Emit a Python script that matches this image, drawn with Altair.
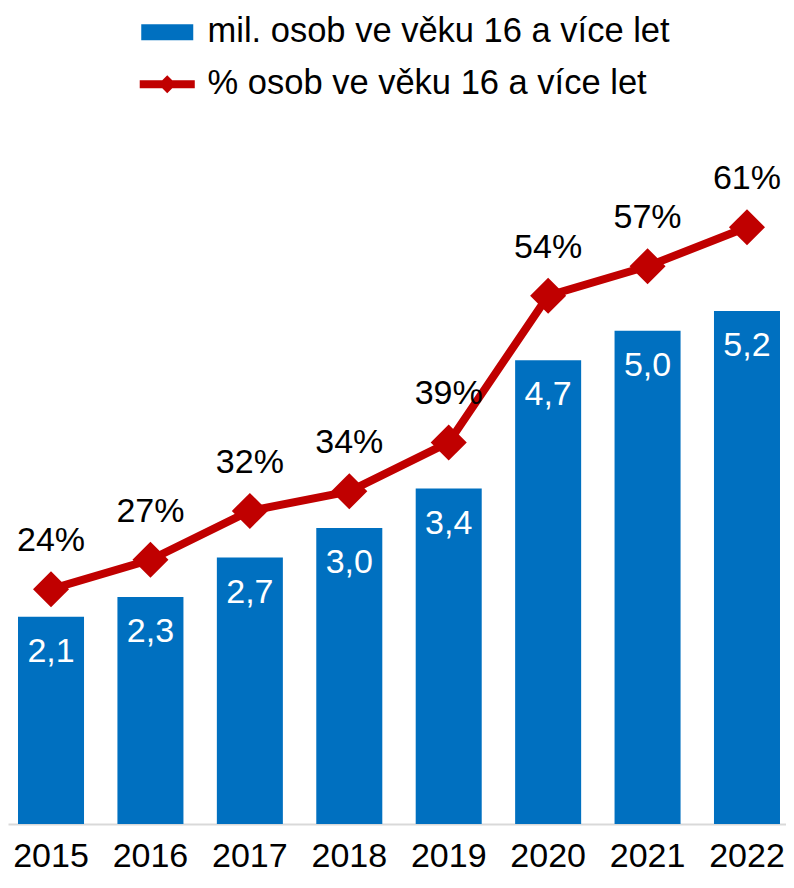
import altair as alt
import pandas as pd

years = ["2015", "2016", "2017", "2018", "2019", "2020", "2021", "2022"]
people_mil = [2.1, 2.3, 2.7, 3.0, 3.4, 4.7, 5.0, 5.2]
people_pct = [24, 27, 32, 34, 39, 54, 57, 61]
bar_series = "mil. osob ve věku 16 a více let"
line_series = "% osob ve věku 16 a více let"

BLUE = "#0070C0"
RED = "#C00000"
FONT = "Liberation Sans"
FS = 34
LEG_FS = 34.5

df = pd.DataFrame({
    "year": years,
    "mil": people_mil,
    "pct": people_pct,
    "mil_label": [f"{v:.1f}".replace(".", ",") for v in people_mil],
    "pct_label": [f"{v}%" for v in people_pct],
    "s_bar": [bar_series] * len(years),
    "s_line": [line_series] * len(years),
})

x = alt.X(
    "year:N",
    scale=alt.Scale(paddingInner=0.336, paddingOuter=0.0805, align=0.625),
    axis=alt.Axis(title=None, labelAngle=0, labelFontSize=FS, labelFont=FONT,
                  labelColor="black", ticks=False, domainColor="#D9D9D9",
                  domainWidth=2, labelBaseline="alphabetic", labelPadding=42, grid=False),
)
y_bar = alt.Y("mil:Q", scale=alt.Scale(domain=[0, 8.27], nice=False), axis=None)
y_pct = alt.Y("pct:Q", scale=alt.Scale(domain=[0, 83.4], nice=False), axis=None)

base = alt.Chart(df)

bars = base.mark_bar().encode(
    x=x,
    y=y_bar,
    color=alt.Color(
        "s_bar:N",
        scale=alt.Scale(domain=[bar_series], range=[BLUE]),
        legend=alt.Legend(
            title=None, orient="none", legendX=142, legendY=7, padding=0,
            symbolType="M-1.625,-0.5H1.625V0.5H-1.625Z", symbolSize=1024,
            symbolStrokeWidth=0, symbolOpacity=1, labelLimit=700,
            labelFontSize=LEG_FS, labelFont=FONT, labelColor="black", labelOffset=23,
        ),
    ),
)
bar_text = base.mark_text(baseline="top", dy=18, fontSize=FS, font=FONT, color="white").encode(
    x=x, y=y_bar, text="mil_label:N"
)

line = base.mark_line(color=RED, strokeWidth=8).encode(x=x, y=y_pct)
points = base.mark_point(shape="diamond", filled=True, size=1300, opacity=1).encode(
    x=x,
    y=y_pct,
    color=alt.Color(
        "s_line:N",
        scale=alt.Scale(domain=[line_series], range=[RED]),
        legend=alt.Legend(
            title=None, orient="none", legendX=142, legendY=59, padding=0,
            symbolType="M-1.72,-0.25H1.72V0.25H-1.72Z M0,-0.56L0.56,0L0,0.56L-0.56,0Z",
            symbolSize=1024, symbolStrokeWidth=0, symbolOpacity=1, labelLimit=700,
            labelFontSize=LEG_FS, labelFont=FONT, labelColor="black", labelOffset=23,
        ),
    ),
)
pct_text = base.mark_text(baseline="bottom", dy=-31, fontSize=FS, font=FONT, color="black").encode(
    x=x, y=y_pct, text="pct_label:N"
)

chart = (
    alt.layer(alt.layer(bars, bar_text), alt.layer(line, points, pct_text))
    .resolve_scale(y="independent", color="independent")
    .properties(
        width=778, height=816,
        padding={"left": 0, "top": 0, "right": 0, "bottom": 50},
        autosize=alt.AutoSizeParams(type="none"),
    )
    .configure_view(stroke=None)
)

chart.save("out.html", embed_options={"renderer": "svg", "actions": False})
